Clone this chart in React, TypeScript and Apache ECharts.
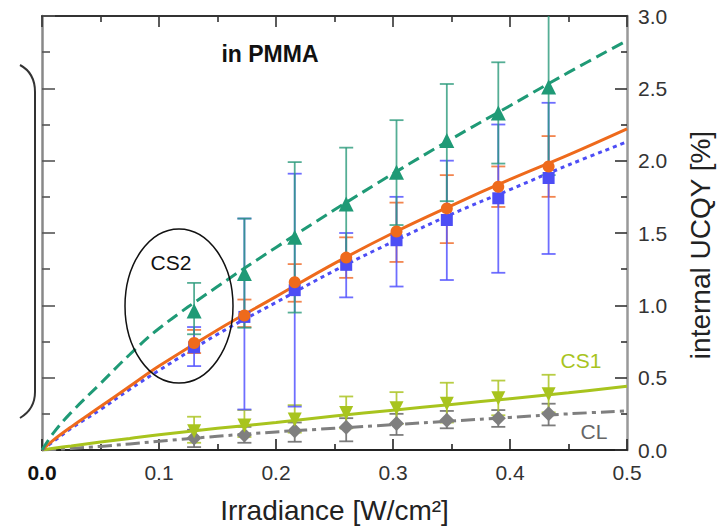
import React, { useEffect, useRef } from "react";
import * as echarts from "echarts";

const xTickValues = [0, 0.1, 0.2, 0.3, 0.4, 0.5];
const yTickValues = [0, 0.5, 1, 1.5, 2, 2.5, 3];

const irradiance = [0.13, 0.173, 0.216, 0.26, 0.303, 0.346, 0.39, 0.433];

const greenY = [0.96, 1.22, 1.47, 1.7, 1.92, 2.14, 2.33, 2.51];
const greenLo = [0.8, 0.845, 0.95, 1.3, 1.555, 1.72, 1.98, 1.9];
const greenHi = [1.155, 1.6, 1.99, 2.09, 2.28, 2.53, 2.68, 3.15];

const orangeY = [0.74, 0.93, 1.16, 1.33, 1.51, 1.67, 1.82, 1.96];
const orangeLo = [0.67, 0.85, 1.025, 1.19, 1.3, 1.43, 1.68, 1.75];
const orangeHi = [0.83, 1.04, 1.285, 1.47, 1.71, 1.9, 1.96, 2.17];

const blueY = [0.71, 0.92, 1.105, 1.28, 1.45, 1.59, 1.74, 1.88];
const blueLo = [0.58, 0.28, 0.3, 1.055, 1.13, 1.175, 1.225, 1.355];
const blueHi = [0.85, 1.6, 1.91, 1.5, 1.75, 2.0, 2.25, 2.4];

const cs1Y = [0.13, 0.17, 0.21, 0.255, 0.288, 0.32, 0.357, 0.385];
const cs1Lo = [0.05, 0.09, 0.12, 0.15, 0.18, 0.19, 0.24, 0.26];
const cs1Hi = [0.23, 0.276, 0.31, 0.37, 0.4, 0.465, 0.48, 0.52];

const clY = [0.083, 0.104, 0.133, 0.158, 0.184, 0.205, 0.22, 0.25];
const clLo = [0.02, 0.05, 0.057, 0.06, 0.104, 0.15, 0.16, 0.17];
const clHi = [0.14, 0.16, 0.19, 0.22, 0.25, 0.27, 0.276, 0.32];

const fitX = [0, 0.01, 0.025, 0.05, 0.075, 0.1, 0.15, 0.2, 0.25, 0.3, 0.35, 0.4, 0.45, 0.5];
const fitGreen = [0, 0.12, 0.26, 0.46, 0.66, 0.84, 1.13, 1.4, 1.66, 1.91, 2.15, 2.38, 2.61, 2.83];
const fitOrange = [0, 0.07, 0.16, 0.3, 0.44, 0.58, 0.83, 1.06, 1.29, 1.5, 1.69, 1.87, 2.04, 2.22];
const fitBlue = [0, 0.06, 0.15, 0.28, 0.42, 0.55, 0.8, 1.02, 1.24, 1.44, 1.63, 1.8, 1.97, 2.13];
const fitCS1 = [0, 0.012, 0.028, 0.055, 0.08, 0.105, 0.15, 0.19, 0.235, 0.275, 0.315, 0.355, 0.395, 0.44];
const fitCL = [0, 0.004, 0.011, 0.025, 0.042, 0.06, 0.095, 0.125, 0.15, 0.175, 0.2, 0.225, 0.25, 0.27];

const C_GREEN = "#1f9a76";
const C_ORANGE = "#ee6a1c";
const C_BLUE = "#4d4df5";
const C_CS1 = "#a8c41e";
const C_CL = "#7f7f7f";

const FONT = "Liberation Sans, Arial, Helvetica, sans-serif";

function zip(xs: number[], ys: number[]) {
  return xs.map((x, i) => [x, ys[i]]);
}

function errorSeries(lo: number[], hi: number[], color: string, opacity: number, z: number) {
  return {
    type: "custom",
    data: irradiance.map((x, i) => [x, lo[i], hi[i]]),
    encode: { x: 0, y: [1, 2] },
    clip: true,
    z,
    silent: true,
    renderItem: (params: any, api: any) => {
      const x = api.value(0);
      const a = api.coord([x, api.value(1)]);
      const b = api.coord([x, api.value(2)]);
      const hw = 7;
      const style = { stroke: color, lineWidth: 1.8, opacity };
      return {
        type: "group",
        children: [
          { type: "line", shape: { x1: a[0], y1: a[1], x2: b[0], y2: b[1] }, style },
          { type: "line", shape: { x1: a[0] - hw, y1: a[1], x2: a[0] + hw, y2: a[1] }, style },
          { type: "line", shape: { x1: b[0] - hw, y1: b[1], x2: b[0] + hw, y2: b[1] }, style },
        ],
      };
    },
  };
}

function fitSeries(ys: number[], color: string, type: any, z: number) {
  return {
    type: "line",
    data: zip(fitX, ys),
    showSymbol: false,
    symbol: "none",
    smooth: 0.4,
    z,
    silent: true,
    lineStyle: { color, width: 3, type },
  };
}

function markerSeries(ys: number[], color: string, symbol: string, size: number, rotate: number, z: number) {
  return {
    type: "scatter",
    data: zip(irradiance, ys),
    symbol,
    symbolSize: size,
    symbolRotate: rotate,
    z,
    silent: true,
    itemStyle: { color, opacity: 1 },
  };
}

echarts.graphic.registerShape(
  "bracket",
  echarts.graphic.extendPath("M20 65 Q35 73 35 92 L35 392 Q35 409 20 418", {}) as any
);

export default function App() {
  const ref = useRef<HTMLDivElement>(null);
  useEffect(() => {
    if (!ref.current) return;
    const chart = echarts.init(ref.current, undefined, { renderer: "svg" });
    const tickLabelStyle = { fontFamily: FONT, fontSize: 21, color: "#333" };
    chart.setOption({
      animation: false,
      backgroundColor: "#fff",
      grid: { left: 42, right: 98, top: 16, bottom: 81, containLabel: false, outerBoundsMode: "none" },
      xAxis: [
        {
          type: "value",
          position: "bottom",
          min: 0,
          max: 0.5,
          interval: 0.1,
          name: "Irradiance [W/cm²]",
          nameLocation: "middle",
          nameGap: 46,
          nameTextStyle: { fontFamily: FONT, fontSize: 28, color: "#222" },
          axisLine: { show: true, onZero: false, lineStyle: { color: "#222", width: 2 } },
          axisTick: { show: true, inside: true, length: 11, lineStyle: { color: "#222", width: 1.6 } },
          minorTick: { show: true, splitNumber: 2, length: 6, lineStyle: { color: "#222", width: 1.6 } },
          splitLine: { show: false },
          axisLabel: {
            ...tickLabelStyle,
            margin: 12,
            formatter: (v: number) => (v === 0 ? "{b|0.0}" : v.toFixed(1)),
            rich: { b: { fontFamily: FONT, fontSize: 21, fontWeight: "bold", color: "#111" } },
          },
        },
        {
          type: "value",
          position: "top",
          min: 0,
          max: 0.5,
          interval: 0.1,
          axisLine: { show: true, onZero: false, lineStyle: { color: "#333", width: 2 } },
          axisTick: { show: true, inside: true, length: 11, lineStyle: { color: "#333", width: 1.6 } },
          minorTick: { show: true, splitNumber: 2, length: 6, lineStyle: { color: "#333", width: 1.6 } },
          splitLine: { show: false },
          axisLabel: { show: false },
        },
      ],
      yAxis: [
        {
          type: "value",
          position: "right",
          min: 0,
          max: 3,
          interval: 0.5,
          axisLine: { show: true, onZero: false, lineStyle: { color: "#999", width: 2.5 } },
          axisTick: { show: true, inside: true, length: 12, lineStyle: { color: "#333", width: 1.6 } },
          minorTick: { show: true, splitNumber: 2, length: 6, lineStyle: { color: "#333", width: 1.6 } },
          splitLine: { show: false },
          axisLabel: { ...tickLabelStyle, margin: 11, formatter: (v: number) => v.toFixed(1) },
        },
        {
          type: "value",
          position: "left",
          min: 0,
          max: 3,
          interval: 0.5,
          axisLine: { show: true, onZero: false, lineStyle: { color: "#888", width: 2.5 } },
          axisTick: { show: true, inside: true, length: 13, lineStyle: { color: "#555", width: 1.6 } },
          minorTick: { show: true, splitNumber: 2, length: 8, lineStyle: { color: "#555", width: 1.6 } },
          splitLine: { show: false },
          axisLabel: { show: false },
        },
      ],
      series: [
        errorSeries(clLo, clHi, "#6f6f6f", 0.9, 2),
        errorSeries(cs1Lo, cs1Hi, "#b0c830", 0.9, 2),
        errorSeries(orangeLo, orangeHi, "#f07030", 0.85, 2),
        errorSeries(blueLo, blueHi, "#5555ff", 0.85, 2),
        errorSeries(greenLo, greenHi, "#2a9a7a", 0.8, 2),
        fitSeries(fitCL, C_CL, [14, 5, 4, 5], 3),
        fitSeries(fitCS1, C_CS1, "solid", 3),
        fitSeries(fitBlue, C_BLUE, [4, 4], 3),
        fitSeries(fitOrange, C_ORANGE, "solid", 3),
        fitSeries(fitGreen, C_GREEN, [12, 6], 3),
        markerSeries(clY, C_CL, "diamond", 15, 0, 4),
        markerSeries(cs1Y, C_CS1, "triangle", 14, 180, 4),
        markerSeries(blueY, C_BLUE, "rect", 12, 0, 4),
        markerSeries(orangeY, C_ORANGE, "circle", 12, 0, 4),
        markerSeries(greenY, C_GREEN, "triangle", 15, 0, 4),
      ],
      graphic: [
        {
          type: "bracket",
          x: 0,
          y: 0,
          scaleX: 1,
          scaleY: 1,
          style: { fill: "none", stroke: "#333", lineWidth: 2 },
          silent: true,
        },
        {
          type: "ellipse",
          shape: { cx: 179, cy: 306, rx: 54, ry: 77 },
          style: { fill: "none", stroke: "#111", lineWidth: 1.5 },
          silent: true,
          z: 10,
        },
        {
          type: "text",
          x: 700,
          y: 245,
          rotation: Math.PI / 2,
          style: {
            text: "internal UCQY [%]",
            font: `28px ${FONT}`,
            fill: "#222",
            textAlign: "center",
            textVerticalAlign: "middle",
          },
        },
        {
          type: "text",
          x: 270,
          y: 54,
          style: {
            text: "in PMMA",
            font: `bold 23px ${FONT}`,
            fill: "#111",
            textAlign: "center",
            textVerticalAlign: "middle",
          },
        },
        {
          type: "text",
          x: 171,
          y: 262,
          style: {
            text: "CS2",
            font: `21px ${FONT}`,
            fill: "#111",
            textAlign: "center",
            textVerticalAlign: "middle",
          },
        },
        {
          type: "text",
          x: 581,
          y: 360,
          style: {
            text: "CS1",
            font: `21px ${FONT}`,
            fill: C_CS1,
            textAlign: "center",
            textVerticalAlign: "middle",
          },
        },
        {
          type: "text",
          x: 594,
          y: 431,
          style: {
            text: "CL",
            font: `21px ${FONT}`,
            fill: "#666",
            textAlign: "center",
            textVerticalAlign: "middle",
          },
        },
      ],
    });
    return () => chart.dispose();
  }, []);
  return (
    <div
      ref={ref}
      style={{ position: "fixed", left: 0, top: 0, width: 725, height: 531, background: "#fff" }}
    />
  );
}
